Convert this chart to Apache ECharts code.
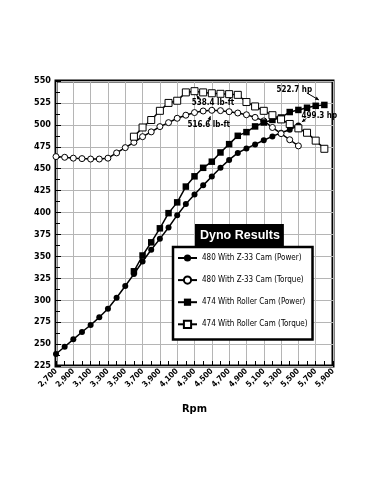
<!DOCTYPE html>
<html><head><meta charset="utf-8">
<script src="https://cdn.jsdelivr.net/npm/echarts@6/dist/echarts.min.js"></script>
<style>html,body{margin:0;padding:0;background:#fff;}#c{width:371px;height:495px;}</style>
</head><body><div id="c"></div>
<script>
// ---- data ----
const rpmCategories = [2700,2800,2900,3000,3100,3200,3300,3400,3500,3600,3700,3800,3900,4000,4100,4200,4300,4400,4500,4600,4700,4800,4900,5000,5100,5200,5300,5400,5500,5600,5700,5800,5900];
const z33Rpm = [2700,2800,2900,3000,3100,3200,3300,3400,3500,3600,3700,3800,3900,4000,4100,4200,4300,4400,4500,4600,4700,4800,4900,5000,5100,5200,5300,5400,5500];
const z33Power = [238.7,247,255.4,263.8,271.8,280.5,290.3,302.9,316.2,329.8,344.2,357.5,370,383,397,409.6,420.5,431,441.2,451,460,468,473,477.7,482.4,486.8,491,494.5,499.3];
const z33Torque = [463.8,463,462,461.5,461,461,462,468,474,480,486.5,492,498,502.5,507.5,511,514,515.8,516.6,516.2,515,513.5,511.5,508.5,504.5,497,490,483,476];
const rollerRpm = [3600,3700,3800,3900,4000,4100,4200,4300,4400,4500,4600,4700,4800,4900,5000,5100,5200,5300,5400,5500,5600,5700,5800];
const rollerPower = [333,351,366,382,399.3,411.6,429.6,441.3,451,458,468.5,478,487.5,491.7,498.2,502.7,505.6,508.4,514.6,517,519.5,521.7,522.7];
const rollerTorque = [486.5,497,505.5,516,525,527.5,537,538.4,537,536,535.4,535,534.2,526,521,516,511,506.2,501,496,491,482,472.7];
const seriesNames = ['480 With Z-33 Cam (Power)','480 With Z-33 Cam (Torque)','474 With Roller Cam (Power)','474 With Roller Cam (Torque)'];
const yMin = 225, yMax = 550, yStep = 25;
const titleText = 'Dyno Results';
const xName = 'Rpm';
// annotations: label, series index, rpm
const annoLabels = ['538.4 lb-ft','516.6 lb-ft','522.7 hp','499.3 hp'];
const annoSeries = [3,1,2,0];
const annoRpm = [4300,4500,5800,5500];

// ---- chart ----
const NARROW = "'Liberation Sans Narrow','DejaVu Sans Condensed','Liberation Sans',sans-serif";
const chart = echarts.init(document.getElementById('c'), null, {renderer:'canvas'});
const fmt = v => String(v).replace(/\B(?=(\d{3})+(?!\d))/g, ',');
const pairs = (rpms, vals) => rpms.map((r,i)=>[String(r), vals[i]]);
const seriesData = [pairs(z33Rpm,z33Power), pairs(z33Rpm,z33Torque), pairs(rollerRpm,rollerPower), pairs(rollerRpm,rollerTorque)];
const styles = [
  {symbol:'circle', symbolSize:6, itemStyle:{color:'#000', borderColor:'#000', borderWidth:0}},
  {symbol:'circle', symbolSize:6, itemStyle:{color:'#fff', borderColor:'#000', borderWidth:1}},
  {symbol:'rect', symbolSize:6.5, itemStyle:{color:'#000', borderColor:'#000', borderWidth:0}},
  {symbol:'rect', symbolSize:7, itemStyle:{color:'#fff', borderColor:'#000', borderWidth:1}}
];
const series = seriesNames.map((n,i)=>Object.assign({
  name:n, type:'line', data:seriesData[i], showAllSymbol:true,
  lineStyle:{color:'#000', width:1.5}, z:3+i
}, styles[i]));

chart.setOption({
  animation:false,
  backgroundColor:'#fff',
  title:{text:titleText, left:195, top:224, backgroundColor:'#000', padding:[5,4,4,5],
    textStyle:{color:'#fff', fontSize:12.5, fontWeight:'bold', fontFamily:"'Liberation Sans',Arial,sans-serif"}, z:10},
  legend:{orient:'vertical', left:173, top:247, itemWidth:19, itemHeight:9, itemGap:13.5,
    padding:[7,5,10.5,4], backgroundColor:'#fff', borderColor:'#000', borderWidth:2.5,
    data:seriesNames, textStyle:{fontFamily:NARROW, fontSize:8, color:'#000'}, z:8},
  grid:{left:56, right:38, top:81, bottom:129, show:true, borderColor:'#000', borderWidth:3, backgroundColor:'transparent'},
  xAxis:{type:'category', data:rpmCategories.map(String), boundaryGap:false,
    axisLine:{show:false},
    axisTick:{show:true, inside:true, interval:0, length:5, lineStyle:{color:'#000'}},
    axisLabel:{interval:1, rotate:45, margin:4, formatter:fmt, fontFamily:NARROW, fontWeight:'bold', fontSize:8, color:'#000'},
    splitLine:{show:true, interval:1, lineStyle:{color:'#b5b5b5', width:1}},
    name:xName, nameLocation:'middle', nameGap:38,
    nameTextStyle:{fontFamily:NARROW, fontWeight:'bold', fontSize:11, color:'#000'}},
  yAxis:{type:'value', min:yMin, max:yMax, interval:yStep,
    axisLine:{show:false},
    axisTick:{show:true, inside:true, length:5, lineStyle:{color:'#000'}},
    minorTick:{show:true, splitNumber:2, length:4, lineStyle:{color:'#000'}},
    axisLabel:{margin:5, fontFamily:NARROW, fontWeight:'bold', fontSize:9, color:'#000'},
    splitLine:{show:true, lineStyle:{color:'#b5b5b5', width:1}}},
  series:series
});

// annotations anchored to data points
const offs = [
  {t:[18.5,11.3], a:[4.8,8], b:[2.2,4]},
  {t:[-3,15], a:[-3.5,12.5], b:[-1.5,6]},
  {t:[-30,-15.5], a:[-17.5,-12], b:[-5.5,-5]},
  {t:[21,-9.6], a:[8,-7], b:[3.5,-3.5]}
];
const vals = [z33Power, z33Torque, rollerPower, rollerTorque];
const rpmsOf = [z33Rpm, z33Rpm, rollerRpm, rollerRpm];
const gfx = [];
annoLabels.forEach((lab,k)=>{
  const s = annoSeries[k];
  const v = vals[s][rpmsOf[s].indexOf(annoRpm[k])];
  const p = chart.convertToPixel({gridIndex:0}, [rpmCategories.indexOf(annoRpm[k]), v]);
  const o = offs[k];
  gfx.push({type:'text', x:p[0]+o.t[0], y:p[1]+o.t[1], z:20,
    style:{text:lab, fill:'#000', font:"bold 8px "+NARROW, textAlign:'center', textVerticalAlign:'middle'}});
  const x1=p[0]+o.a[0], y1=p[1]+o.a[1], x2=p[0]+o.b[0], y2=p[1]+o.b[1];
  gfx.push({type:'line', z:20, shape:{x1:x1,y1:y1,x2:x2,y2:y2}, style:{stroke:'#000', lineWidth:1}});
  const dx=x2-x1, dy=y2-y1, L=Math.hypot(dx,dy)||1, ux=dx/L, uy=dy/L;
  const hl=3.5, hw=1.8;
  gfx.push({type:'polygon', z:20, shape:{points:[[x2,y2],[x2-ux*hl-uy*hw, y2-uy*hl+ux*hw],[x2-ux*hl+uy*hw, y2-uy*hl-ux*hw]]}, style:{fill:'#000'}});
});
chart.setOption({graphic:gfx});
</script></body></html>
